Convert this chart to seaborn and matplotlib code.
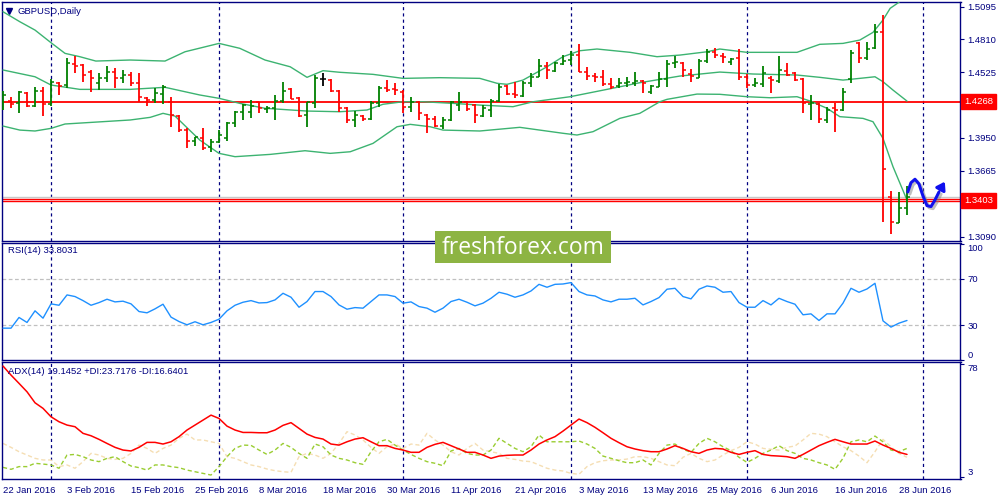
import numpy as np
import pandas as pd
import seaborn as sns
import matplotlib.pyplot as plt
from matplotlib.patches import Rectangle
from matplotlib import patheffects as pe
from matplotlib.transforms import blended_transform_factory

# ---- data (GBPUSD daily, 22 Jan - 29 Jun 2016) ----
date_labels = ["22 Jan 2016", "3 Feb 2016", "15 Feb 2016", "25 Feb 2016", "8 Mar 2016",
               "18 Mar 2016", "30 Mar 2016", "11 Apr 2016", "21 Apr 2016", "3 May 2016",
               "13 May 2016", "25 May 2016", "6 Jun 2016", "16 Jun 2016", "28 Jun 2016"]
date_label_bars = [0, 8, 16, 24, 32, 40, 48, 56, 64, 72, 80, 88, 96, 104, 112]
month_start_bars = [6, 27, 50, 71, 93, 115]

opens = [1.4264, 1.4272, 1.4255, 1.4346, 1.4229, 1.4357, 1.4244, 1.4429, 1.4412, 1.4592,
         1.4586, 1.4528, 1.4427, 1.4470, 1.4528, 1.4470, 1.4499, 1.4427, 1.4296, 1.4281,
         1.4331, 1.4266, 1.4141, 1.4019, 1.3923, 1.3947, 1.3874, 1.3917, 1.3947, 1.4083,
         1.4179, 1.4176, 1.4261, 1.4200, 1.4209, 1.4275, 1.4377, 1.4296, 1.4150, 1.4252,
         1.4464, 1.4455, 1.4362, 1.4209, 1.4107, 1.4141, 1.4115, 1.4257, 1.4383, 1.4377,
         1.4353, 1.4217, 1.4266, 1.4150, 1.4113, 1.4054, 1.4107, 1.4237, 1.4266, 1.4237,
         1.4141, 1.4194, 1.4275, 1.4403, 1.4333, 1.4316, 1.4427, 1.4484, 1.4577, 1.4537,
         1.4592, 1.4630, 1.4673, 1.4528, 1.4490, 1.4484, 1.4421, 1.4406, 1.4432, 1.4432,
         1.4447, 1.4353, 1.4397, 1.4461, 1.4601, 1.4606, 1.4508, 1.4475, 1.4624, 1.4702,
         1.4665, 1.4615, 1.4645, 1.4479, 1.4412, 1.4421, 1.4470, 1.4447, 1.4537, 1.4520,
         1.4464, 1.4246, 1.4246, 1.4107, 1.4211, 1.4194, 1.4462, 1.4775, 1.4645, 1.4732,
         1.4877, 1.3438, 1.3211, 1.3337]
highs = [1.4362, 1.4305, 1.4362, 1.4348, 1.4397, 1.4397, 1.4462, 1.4441, 1.4645, 1.4667,
         1.4595, 1.4543, 1.4514, 1.4577, 1.4557, 1.4543, 1.4528, 1.4514, 1.4310, 1.4388,
         1.4412, 1.4305, 1.4150, 1.4034, 1.3961, 1.4034, 1.3938, 1.4019, 1.4092, 1.4188,
         1.4244, 1.4281, 1.4266, 1.4229, 1.4325, 1.4435, 1.4383, 1.4305, 1.4266, 1.4499,
         1.4514, 1.4464, 1.4368, 1.4223, 1.4185, 1.4150, 1.4272, 1.4403, 1.4455, 1.4427,
         1.4368, 1.4310, 1.4272, 1.4159, 1.4141, 1.4130, 1.4272, 1.4348, 1.4275, 1.4244,
         1.4237, 1.4287, 1.4420, 1.4412, 1.4435, 1.4447, 1.4520, 1.4636, 1.4615, 1.4615,
         1.4673, 1.4711, 1.4769, 1.4566, 1.4520, 1.4543, 1.4475, 1.4475, 1.4484, 1.4523,
         1.4455, 1.4412, 1.4523, 1.4630, 1.4665, 1.4610, 1.4549, 1.4639, 1.4726, 1.4732,
         1.4688, 1.4645, 1.4723, 1.4508, 1.4470, 1.4577, 1.4490, 1.4665, 1.4601, 1.4528,
         1.4475, 1.4325, 1.4252, 1.4217, 1.4257, 1.4383, 1.4717, 1.4784, 1.4784, 1.4944,
         1.5022, 1.3487, 1.3481, 1.3531]
lows = [1.4194, 1.4214, 1.4165, 1.4223, 1.4223, 1.4144, 1.4229, 1.4325, 1.4383, 1.4519,
        1.4441, 1.4348, 1.4368, 1.4435, 1.4383, 1.4427, 1.4403, 1.4261, 1.4231, 1.4252,
        1.4244, 1.4048, 1.4005, 1.3865, 1.3880, 1.3845, 1.3830, 1.3903, 1.3923, 1.4048,
        1.4107, 1.4127, 1.4165, 1.4165, 1.4107, 1.4252, 1.4287, 1.4130, 1.4048, 1.4214,
        1.4403, 1.4353, 1.4179, 1.4078, 1.4048, 1.4100, 1.4107, 1.4223, 1.4353, 1.4325,
        1.4165, 1.4179, 1.4107, 1.3996, 1.4043, 1.4025, 1.4098, 1.4185, 1.4188, 1.4083,
        1.4130, 1.4130, 1.4266, 1.4325, 1.4296, 1.4310, 1.4397, 1.4479, 1.4464, 1.4522,
        1.4586, 1.4586, 1.4523, 1.4455, 1.4441, 1.4406, 1.4374, 1.4388, 1.4397, 1.4406,
        1.4339, 1.4331, 1.4392, 1.4392, 1.4557, 1.4479, 1.4435, 1.4470, 1.4601, 1.4645,
        1.4601, 1.4586, 1.4455, 1.4383, 1.4397, 1.4392, 1.4345, 1.4432, 1.4490, 1.4447,
        1.4170, 1.4107, 1.4083, 1.4083, 1.4005, 1.4188, 1.4427, 1.4606, 1.4630, 1.4723,
        1.3220, 1.3109, 1.3205, 1.3278]
closes = [1.4325, 1.4246, 1.4351, 1.4229, 1.4359, 1.4244, 1.4435, 1.4403, 1.4601, 1.4577,
          1.4499, 1.4470, 1.4470, 1.4528, 1.4470, 1.4499, 1.4427, 1.4305, 1.4281, 1.4345,
          1.4392, 1.4150, 1.4019, 1.3923, 1.3956, 1.3860, 1.3917, 1.3976, 1.4083, 1.4179,
          1.4237, 1.4229, 1.4209, 1.4214, 1.4275, 1.4362, 1.4290, 1.4144, 1.4266, 1.4470,
          1.4464, 1.4362, 1.4209, 1.4107, 1.4150, 1.4115, 1.4257, 1.4388, 1.4368, 1.4368,
          1.4217, 1.4266, 1.4165, 1.4113, 1.4054, 1.4107, 1.4266, 1.4266, 1.4200, 1.4150,
          1.4209, 1.4275, 1.4392, 1.4333, 1.4325, 1.4432, 1.4484, 1.4580, 1.4543, 1.4601,
          1.4621, 1.4673, 1.4528, 1.4490, 1.4479, 1.4421, 1.4397, 1.4432, 1.4441, 1.4447,
          1.4429, 1.4403, 1.4461, 1.4592, 1.4610, 1.4543, 1.4493, 1.4624, 1.4702, 1.4673,
          1.4654, 1.4636, 1.4479, 1.4412, 1.4427, 1.4520, 1.4455, 1.4543, 1.4499, 1.4455,
          1.4252, 1.4257, 1.4113, 1.4194, 1.4194, 1.4353, 1.4693, 1.4645, 1.4723, 1.4877,
          1.3678, 1.3220, 1.3337, 1.3438]

# Bollinger bands (20, 2) read at sample bars
bb_upper_bar = [0, 2.1, 4, 6, 7.75, 9.6, 11.6, 15.9, 20.25, 22.75, 27, 29.6, 32.75, 35.9, 38,
                40, 42.1, 46.25, 50, 54.6, 59.6, 61.75, 63, 65, 68, 70, 72.1, 74.25, 78.4,
                81.75, 84.6, 88, 89.6, 93, 99.25, 102.1, 105, 107.1, 108.75, 110, 110.9,
                111.9, 113]
bb_upper = [1.5051, 1.4964, 1.4891, 1.4781, 1.4688, 1.4659, 1.4621, 1.4630, 1.4621, 1.4702,
            1.4775, 1.4732, 1.4630, 1.4571, 1.4479, 1.4537, 1.4523, 1.4505, 1.4470, 1.4476,
            1.4470, 1.4427, 1.4418, 1.4455, 1.4571, 1.4659, 1.4711, 1.4726, 1.4697, 1.4659,
            1.4673, 1.4702, 1.4726, 1.4697, 1.4697, 1.4767, 1.4775, 1.4804, 1.4871, 1.4979,
            1.5081, 1.5129, 1.5200]
bb_mid_bar = [0, 4, 6, 9.6, 15.9, 20.25, 24.6, 27, 29.6, 32.75, 38, 42.1, 45.5, 47.5, 50,
              52.5, 56.25, 59.6, 63.75, 66.25, 70.9, 75.5, 79.6, 84.6, 89.6, 93.75, 99.25,
              102.1, 105, 107.1, 109, 110, 111.25, 113]
bb_mid = [1.4543, 1.4484, 1.4412, 1.4374, 1.4374, 1.4392, 1.4325, 1.4296, 1.4252, 1.4209,
          1.4185, 1.4179, 1.4194, 1.4244, 1.4266, 1.4266, 1.4252, 1.4237, 1.4223, 1.4266,
          1.4310, 1.4374, 1.4432, 1.4490, 1.4525, 1.4508, 1.4499, 1.4479, 1.4455, 1.4470,
          1.4484, 1.4441, 1.4368, 1.4272]
bb_lower_bar = [0, 2.1, 4, 6, 7.75, 15.9, 18.4, 20, 21.5, 24.6, 27, 29, 33.4, 37.75, 40.9,
                43.4, 46.25, 49.25, 50.9, 53.4, 55, 59.6, 64.6, 70, 71.75, 73.75, 77.1, 79.6,
                82.1, 83, 86.75, 89.6, 93, 95.9, 99.25, 100.9, 103, 104.6, 107.5, 108.75,
                110, 111.25, 113]
bb_lower = [1.4054, 1.4019, 1.4011, 1.4034, 1.4072, 1.4107, 1.4130, 1.4165, 1.4141, 1.3932,
            1.3816, 1.3787, 1.3807, 1.3839, 1.3816, 1.3830, 1.3903, 1.4048, 1.4069, 1.4048,
            1.4019, 1.4011, 1.4043, 1.3991, 1.3976, 1.4005, 1.4121, 1.4165, 1.4266, 1.4287,
            1.4333, 1.4331, 1.4310, 1.4301, 1.4310, 1.4272, 1.4209, 1.4136, 1.4121, 1.4092,
            1.3947, 1.3700, 1.3409]

rsi = [27.4, 27.4, 36.6, 32.3, 42.3, 36.0, 48.3, 47.1, 56.0, 54.6,
       51.1, 47.1, 49.4, 52.3, 50.0, 50.6, 48.3, 41.7, 40.6, 44.0,
       48.0, 36.9, 33.1, 30.3, 32.9, 30.3, 32.3, 35.1, 42.3, 47.1,
       49.7, 51.1, 49.1, 49.4, 51.7, 57.4, 54.0, 45.4, 50.3, 58.9,
       58.9, 54.6, 47.4, 43.7, 45.1, 44.6, 50.3, 56.0, 56.0, 54.6,
       48.9, 50.0, 46.0, 44.6, 41.1, 44.6, 50.3, 52.3, 49.7, 46.6,
       48.9, 53.1, 58.3, 56.6, 54.0, 56.0, 59.4, 65.1, 62.6, 65.1,
       65.4, 66.6, 58.9, 56.0, 55.1, 51.7, 50.0, 52.3, 52.3, 53.1,
       47.4, 50.3, 53.7, 60.9, 61.7, 54.6, 52.6, 60.9, 63.7, 62.6,
       58.3, 58.9, 49.4, 45.4, 45.4, 51.1, 47.4, 53.1, 50.3, 48.0,
       38.9, 39.7, 34.0, 39.7, 39.7, 48.9, 61.7, 58.3, 61.1, 66.0,
       33.7, 28.3, 31.7, 34.0]

adx = [76.7, 70.7, 65.2, 59.6, 52.3, 48.6, 43.0, 39.7, 37.5, 36.4,
       32.0, 30.4, 28.0, 25.3, 22.7, 20.9, 20.3, 22.7, 26.0, 26.0,
       24.9, 26.4, 29.8, 34.2, 37.5, 40.8, 44.1, 41.9, 36.8, 34.2,
       32.6, 32.6, 32.4, 32.4, 34.2, 37.3, 39.1, 35.3, 31.5, 29.3,
       28.2, 24.9, 24.2, 26.4, 28.2, 29.1, 26.4, 23.8, 23.8, 22.0,
       20.9, 19.4, 19.4, 22.7, 24.7, 26.0, 23.8, 21.6, 19.4, 19.4,
       17.6, 15.4, 16.9, 17.4, 17.6, 17.6, 20.9, 24.9, 27.6, 29.8,
       33.5, 37.5, 41.5, 39.1, 36.0, 32.4, 28.7, 25.8, 23.1, 21.6,
       20.5, 19.8, 19.8, 21.6, 23.8, 22.0, 19.8, 18.7, 20.9, 22.0,
       21.6, 19.4, 18.0, 19.4, 20.5, 18.0, 17.2, 16.9, 16.5, 15.4,
       18.0, 20.9, 23.8, 26.0, 28.0, 26.4, 24.9, 24.9, 24.9, 26.9,
       24.2, 22.0, 19.4, 18.0]
plus_di = [9.4, 8.1, 9.9, 9.9, 12.1, 11.6, 11.0, 8.8, 17.6, 18.0,
           16.5, 14.3, 13.2, 15.4, 16.5, 13.2, 10.3, 9.2, 7.6, 11.0,
           11.0, 9.9, 9.2, 7.6, 6.5, 5.4, 4.3, 9.9, 16.5, 22.0,
           24.2, 24.0, 20.9, 18.0, 20.9, 25.3, 22.7, 18.7, 15.4, 24.9,
           23.1, 17.6, 15.4, 14.3, 12.5, 11.4, 19.8, 26.4, 28.0, 24.2,
           20.9, 18.0, 15.4, 13.2, 12.1, 10.5, 20.3, 22.0, 18.7, 17.6,
           17.6, 20.9, 28.7, 25.3, 22.0, 19.8, 23.1, 30.9, 26.4, 26.4,
           26.4, 26.4, 26.9, 24.9, 22.0, 16.9, 15.4, 13.8, 12.5, 12.5,
           14.3, 11.0, 18.7, 24.2, 24.9, 21.4, 19.4, 25.3, 28.7, 26.4,
           23.1, 20.5, 16.1, 12.7, 15.4, 18.7, 20.9, 23.8, 20.5, 18.7,
           15.4, 14.3, 12.5, 11.0, 8.1, 15.4, 26.4, 27.6, 26.4, 30.2,
           26.4, 20.9, 19.8, 22.0]
minus_di = [25.3, 22.7, 19.8, 17.6, 15.4, 14.3, 14.3, 9.9, 11.0, 8.8,
            13.2, 18.7, 17.6, 15.4, 14.7, 15.4, 18.7, 24.2, 22.0, 18.7,
            22.0, 24.2, 28.7, 31.5, 27.6, 27.6, 26.4, 25.3, 16.5, 15.4,
            13.2, 11.0, 9.9, 8.3, 7.2, 6.5, 6.1, 16.5, 18.7, 17.6,
            15.4, 18.7, 25.3, 33.1, 30.9, 27.6, 22.7, 18.7, 23.1, 24.9,
            22.0, 24.9, 24.2, 32.0, 27.6, 24.2, 19.8, 17.6, 22.0, 25.3,
            20.9, 19.8, 18.7, 15.4, 14.7, 13.6, 13.2, 11.0, 8.8, 7.6,
            7.0, 5.4, 4.8, 9.9, 12.5, 13.8, 14.3, 14.3, 14.9, 16.5,
            16.5, 15.4, 13.2, 11.0, 10.5, 16.1, 18.7, 15.4, 13.2, 14.3,
            17.6, 20.5, 22.7, 26.4, 24.9, 22.0, 21.4, 20.9, 22.7, 23.6,
            27.6, 32.0, 31.5, 29.8, 26.4, 23.1, 20.5, 16.9, 12.5, 19.8,
            28.0, 23.1, 18.7, 16.1]

level_main = 1.4268
level_bid = 1.3416
level_ask = 1.3398
level_grey = 1.3433
price_ticks = [1.5095, 1.4810, 1.4525, 1.4235, 1.3950, 1.3665, 1.3375, 1.3090]
hidden_ticks = [1.4235, 1.3375]   # covered by the red price boxes

# hand-drawn forecast wave (annotation stroke)
wave_bar = [113.1, 113.5, 114.0, 114.5, 115.0, 115.5, 116.0, 116.5, 117.0]
wave_price = [1.3479, 1.3560, 1.3590, 1.3549, 1.3444, 1.3360, 1.3352, 1.3409, 1.3479]
wave_tip = (117.9, 1.3590)

# ---- styling ----
sns.set_style("white")
plt.rcParams['font.family'] = ['Liberation Sans', 'DejaVu Sans']
NAVY = '#000080'
BULL = '#008000'
BEAR = '#ff0000'
BAND = '#3cb371'
FS = 6.8

bars = np.arange(len(closes))
o = np.array(opens); c = np.array(closes)
bar_colors = np.where(c > o, BULL, np.where(c < o, BEAR, 'black'))

fig = plt.figure(figsize=(10, 5), dpi=100)
fig.patch.set_facecolor('white')
L, W = 1.5 / 1000, 959 / 1000
ax_p = fig.add_axes([L, 1 - 240.5 / 500, W, 238.5 / 500])
ax_r = fig.add_axes([L, 1 - 360 / 500, W, 117.5 / 500])
ax_a = fig.add_axes([L, 1 - 479 / 500, W, 116.7 / 500])

xlim = (-0.19, 119.69)
for ax in (ax_p, ax_r, ax_a):
    ax.set_xlim(*xlim)
    for s in ax.spines.values():
        s.set_color(NAVY)
        s.set_linewidth(1.0)
    ax.yaxis.tick_right()
    ax.tick_params(axis='y', direction='out', length=3, width=0.8, color=NAVY,
                   labelcolor=NAVY, labelsize=FS, pad=2, left=False, labelleft=False)
    for b in month_start_bars:
        ax.axvline(b, color=NAVY, lw=0.9, ls=(0, (2.5, 2.5)), zorder=1)

# ---- price panel ----
ax_p.set_ylim(1.3056, 1.5136)
ax_p.axhline(level_grey, color='#c8c8c8', lw=1.0, zorder=2)
ax_p.axhline(level_main, color='red', lw=1.3, zorder=2)
ax_p.axhline(level_bid, color='red', lw=1.0, zorder=2)
ax_p.axhline(level_ask, color='red', lw=1.0, zorder=2)

sns.lineplot(x=bb_upper_bar, y=bb_upper, ax=ax_p, color=BAND, lw=1.0, zorder=3)
sns.lineplot(x=bb_mid_bar, y=bb_mid, ax=ax_p, color=BAND, lw=1.0, zorder=3)
sns.lineplot(x=bb_lower_bar, y=bb_lower, ax=ax_p, color=BAND, lw=1.0, zorder=3)

ax_p.vlines(bars, lows, highs, colors=bar_colors, lw=1.3, zorder=4)
ax_p.hlines(opens, bars - 0.42, bars, colors=bar_colors, lw=1.1, zorder=4)
ax_p.hlines(closes, bars, bars + 0.42, colors=bar_colors, lw=1.1, zorder=4)

ax_p.set_yticks(price_ticks)
ax_p.set_yticklabels(["" if t in hidden_ticks else f"{t:.4f}" for t in price_ticks])
ax_p.set_xticks([])

tr = blended_transform_factory(ax_p.transAxes, ax_p.transData)
for lv, txt in ((level_main, "1.4268"), (1.3403, "1.3403")):
    ax_p.text(1.0035, lv, txt, transform=tr, ha='left', va='center', color='white',
              fontsize=FS, clip_on=False, zorder=10,
              bbox=dict(boxstyle='square,pad=0.3', fc='red', ec='red'))

ax_p.plot([0.0075], [0.962], marker='v', ms=4.5, color=NAVY, transform=ax_p.transAxes)
ax_p.text(0.0172, 0.962, "GBPUSD,Daily", transform=ax_p.transAxes, ha='left', va='center',
          color=NAVY, fontsize=FS)

# forecast wave with soft shadow
shadow = [pe.SimpleLineShadow(offset=(1.5, -1.5), shadow_color='gray', alpha=0.5), pe.Normal()]
ax_p.plot(wave_bar, wave_price, color='#1010ee', lw=2.2, solid_capstyle='round',
          path_effects=shadow, zorder=6, clip_on=False)
ax_p.annotate("", xy=wave_tip, xytext=(wave_bar[-1], wave_price[-1]),
              arrowprops=dict(arrowstyle='-|>,head_length=0.45,head_width=0.3',
                              color='#1010ee', lw=2.2), zorder=6, annotation_clip=False)

# ---- RSI panel ----
ax_r.set_ylim(0.2, 101.1)
for lv in (70, 30):
    ax_r.axhline(lv, color='#c0c0c0', lw=0.9, ls=(0, (3, 2)), zorder=1)
sns.lineplot(x=bars, y=rsi, ax=ax_r, color='#1e90ff', lw=1.0, zorder=3)
ax_r.set_yticks([100, 70, 30, 0])
ax_r.set_yticklabels(["100", "70", "30", "0"])
lbls = ax_r.get_yticklabels()
lbls[0].set_va('top'); lbls[3].set_va('bottom')
ax_r.set_xticks([])
ax_r.text(0.0068, 0.928, "RSI(14) 33.8031", transform=ax_r.transAxes, ha='left',
          va='center', color=NAVY, fontsize=FS)

# ---- ADX panel ----
ax_a.set_ylim(1.67, 79.2)
sns.lineplot(x=bars, y=minus_di, ax=ax_a, color='#f5deb3', lw=1.0, ls=(0, (3, 2)), zorder=2)
sns.lineplot(x=bars, y=plus_di, ax=ax_a, color='#9acd32', lw=1.0, ls=(0, (3, 2)), zorder=2)
sns.lineplot(x=bars, y=adx, ax=ax_a, color='red', lw=1.1, zorder=3)
ax_a.set_yticks([78, 3])
ax_a.set_yticklabels(["78", "3"])
albl = ax_a.get_yticklabels()
albl[0].set_va('top'); albl[1].set_va('bottom')
ax_a.text(0.0068, 0.917, "ADX(14) 19.1452 +DI:23.7176 -DI:16.6401", transform=ax_a.transAxes,
          ha='left', va='center', color=NAVY, fontsize=FS)
ax_a.set_xticks(date_label_bars)
ax_a.set_xticklabels(date_labels, ha='left')
ax_a.tick_params(axis='x', direction='out', length=3, width=0.8, color=NAVY,
                 labelcolor=NAVY, labelsize=FS, pad=2)

for ax in (ax_p, ax_r, ax_a):
    ax.set_xlabel(""); ax.set_ylabel("")
    ax.set_xlim(*xlim)

# ---- watermark ----
fig.patches.append(Rectangle((0.435, 1 - 263.3 / 500), 0.176, 32.6 / 500,
                             transform=fig.transFigure, fc='#8db443', ec='none', zorder=20))
fig.text(0.523, 1 - 247.5 / 500, "freshforex.com", ha='center', va='center', color='white',
         fontsize=16.5, family=['Open Sans', 'DejaVu Sans'], zorder=21)

fig.savefig("out.png", dpi=100, facecolor='white')
